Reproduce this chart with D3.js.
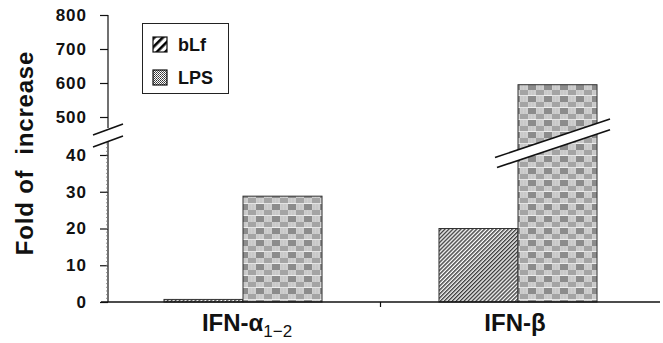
<!DOCTYPE html>
<html><head><meta charset="utf-8">
<script src="https://cdn.jsdelivr.net/npm/d3@7"></script>
<style>body{margin:0;background:#fff}</style>
</head><body>
<svg id="c" width="663" height="343"></svg>
<script>
// ---- data ----
const categories = ["IFN-α", "IFN-β"];
const categorySubs = ["1\u22122", ""];
const series = ["bLf", "LPS"];
const bLfValues = [0.7, 20];
const lpsValues = [28.8, 595];
const lowerTicks = [0, 10, 20, 30, 40];
const upperTicks = [500, 600, 700, 800];
const yTitle = "Fold of\u00A0 increase";

const svg = d3.select("#c");
const font = "Liberation Sans, Arial, Helvetica, sans-serif";
const axisX = 108;

// piecewise (broken) scale
const y = d3.scaleLinear().domain([0, 40, 500, 800]).range([302, 155, 117, 15]);
const yLow = d3.scaleLinear().domain([0, 40]).range([302, 155]);
const yHigh = d3.scaleLinear().domain([500, 800]).range([117, 15]);

const x = d3.scaleBand().domain(categories).range([105.5, 655.5]).paddingInner(0).paddingOuter(0);
const xSub = d3.scaleBand().domain(series).range([0, x.bandwidth()]).paddingInner(0).paddingOuter(0.74);

// patterns
const defs = svg.append("defs");
const hatch = defs.append("pattern").attr("id", "hatch").attr("patternUnits", "userSpaceOnUse")
  .attr("width", 2.8).attr("height", 10).attr("patternTransform", "rotate(45)");
hatch.append("rect").attr("width", 2.8).attr("height", 10).attr("fill", "#fff");
hatch.append("rect").attr("width", 1.4).attr("height", 10).attr("fill", "#3a3a3a");

const plaid = defs.append("pattern").attr("id", "plaid").attr("patternUnits", "userSpaceOnUse")
  .attr("width", 16).attr("height", 12).attr("x", 0).attr("y", 0);
plaid.append("rect").attr("width", 16).attr("height", 12).attr("fill", "#fff");
// block A: dark verticals
[0.5, 2.5, 4.5, 6.5].forEach(v => plaid.append("rect").attr("x", v).attr("y", 0).attr("width", 1).attr("height", 6).attr("fill", "#1a1a1a"));
// block B: light horizontals
[0.5, 2.5, 4.5].forEach(v => plaid.append("rect").attr("x", 8).attr("y", v).attr("width", 8).attr("height", 1).attr("fill", "#a0a0a0"));
[9.5, 12.5].forEach(v => plaid.append("rect").attr("x", v).attr("y", 0).attr("width", 1).attr("height", 6).attr("fill", "#c4c4c4"));
// block C: light horizontals
[6.5, 8.5, 10.5].forEach(v => plaid.append("rect").attr("x", 0).attr("y", v).attr("width", 8).attr("height", 1).attr("fill", "#a0a0a0"));
[1.5, 4.5].forEach(v => plaid.append("rect").attr("x", v).attr("y", 6).attr("width", 1).attr("height", 6).attr("fill", "#c4c4c4"));
// block D: mid verticals
[8.5, 10.5, 12.5, 14.5].forEach(v => plaid.append("rect").attr("x", v).attr("y", 6).attr("width", 1).attr("height", 6).attr("fill", "#4a4a4a"));
plaid.append("rect").attr("x", 0).attr("y", 11.3).attr("width", 16).attr("height", 0.7).attr("fill", "#fff");

const legHatch = defs.append("pattern").attr("id", "leghatch").attr("patternUnits", "userSpaceOnUse")
  .attr("width", 6).attr("height", 10).attr("patternTransform", "translate(153,37) rotate(45)");
legHatch.append("rect").attr("width", 6).attr("height", 10).attr("fill", "#fff");
legHatch.append("rect").attr("width", 2.6).attr("height", 10).attr("fill", "#000");

const legDots = defs.append("pattern").attr("id", "legdots").attr("patternUnits", "userSpaceOnUse")
  .attr("width", 2).attr("height", 2);
legDots.append("rect").attr("width", 2).attr("height", 2).attr("fill", "#fff");
legDots.append("rect").attr("width", 1).attr("height", 1).attr("fill", "#333");
legDots.append("rect").attr("x", 1).attr("y", 1).attr("width", 1).attr("height", 1).attr("fill", "#555");

// bars
const valuesBySeries = { bLf: bLfValues, LPS: lpsValues };
const fills = { bLf: "url(#hatch)", LPS: "url(#plaid)" };
const rows = [];
categories.forEach((c, i) => series.forEach(s => rows.push({ c, s, v: valuesBySeries[s][i] })));

svg.append("g").selectAll("rect").data(rows).join("rect")
  .attr("x", d => x(d.c) + xSub(d.s))
  .attr("y", d => y(d.v))
  .attr("width", xSub.bandwidth())
  .attr("height", d => y(0) - y(d.v))
  .attr("fill", d => fills[d.s])
  .attr("stroke", "#333").attr("stroke-width", 1);

// break across the tall bar
const bb = rows.find(d => d.v > 40);
const bx0 = x(bb.c) + xSub(bb.s);
const bx1 = bx0 + xSub.bandwidth();
const slope = -0.335;
const L1 = [[bx0 - 23, 157.5], [bx1 + 13, 157.5 + slope * (bx1 + 13 - (bx0 - 23))]];
const L2 = [[bx0 - 21, 167.5], [bx1 + 13, 167.5 + slope * (bx1 + 13 - (bx0 - 21))]];
svg.append("polygon").attr("points", [L1[0], L1[1], L2[1], L2[0]].map(p => p.join(",")).join(" ")).attr("fill", "#fff");
[L1, L2].forEach(L => svg.append("line").attr("x1", L[0][0]).attr("y1", L[0][1]).attr("x2", L[1][0]).attr("y2", L[1][1])
  .attr("stroke", "#111").attr("stroke-width", 1.6));

// y axis lower segment
const gLow = svg.append("g").attr("transform", `translate(${axisX},0)`)
  .call(d3.axisLeft(yLow).tickValues(lowerTicks).tickSize(8).tickSizeOuter(0).tickPadding(13));
gLow.select(".domain").remove();
gLow.append("line").attr("x1", 0).attr("x2", 0).attr("y1", yLow(0)).attr("y2", 141).attr("stroke", "#111").attr("stroke-width", 1.2);
gLow.selectAll(".minor").data(d3.range(1, 44)).join("line").attr("class", "minor")
  .attr("x1", -2).attr("x2", 0).attr("y1", d => yLow(d)).attr("y2", d => yLow(d)).attr("stroke", "#777").attr("stroke-width", 0.8);

// y axis upper segment
const gHigh = svg.append("g").attr("transform", `translate(${axisX},0)`)
  .call(d3.axisLeft(yHigh).tickValues(upperTicks).tickSize(8).tickSizeOuter(0).tickPadding(13));
gHigh.select(".domain").remove();
gHigh.append("line").attr("x1", 0).attr("x2", 0).attr("y1", yHigh(800)).attr("y2", 128).attr("stroke", "#111").attr("stroke-width", 1.2);

[gLow, gHigh].forEach(g => {
  g.selectAll(".tick line").attr("stroke", "#111").attr("stroke-width", 1.2);
  g.selectAll(".tick text").attr("font-family", font).attr("font-weight", "bold").attr("font-size", 17)
    .attr("letter-spacing", 1).attr("fill", "#111");
});

// axis break marks
[[[93, 135], [123, 124]], [[93, 147], [123, 136]]].forEach(L =>
  svg.append("line").attr("x1", L[0][0]).attr("y1", L[0][1]).attr("x2", L[1][0]).attr("y2", L[1][1])
    .attr("stroke", "#111").attr("stroke-width", 1.6));

// x axis
const gx = svg.append("g").attr("transform", `translate(0,${y(0)})`);
gx.append("line").attr("x1", 101).attr("x2", 660).attr("y1", 0).attr("y2", 0).attr("stroke", "#111").attr("stroke-width", 1.3);
gx.append("line").attr("x1", x(categories[1])).attr("x2", x(categories[1])).attr("y1", 0).attr("y2", 5).attr("stroke", "#111").attr("stroke-width", 1.2);

// category labels
categories.forEach((c, i) => {
  const t = svg.append("text").attr("x", x(c) + x.bandwidth() / 2 + (i === 0 ? 4 : -3)).attr("y", 331)
    .attr("text-anchor", "middle").attr("font-family", font).attr("font-weight", "bold").attr("font-size", 24)
    .attr("fill", "#111");
  t.append("tspan").text(c);
  if (categorySubs[i]) t.append("tspan").attr("dy", 6).attr("font-size", 17).attr("font-weight", "normal").text(categorySubs[i]);
});

// y title
svg.append("text").attr("transform", "translate(33,153) rotate(-90)")
  .attr("text-anchor", "middle").attr("font-family", font).attr("font-weight", "bold").attr("font-size", 24)
  .attr("letter-spacing", 0.8).attr("fill", "#111").text(yTitle);

// legend
const lg = svg.append("g");
lg.append("rect").attr("x", 142.5).attr("y", 23.5).attr("width", 86).attr("height", 70).attr("fill", "#fff").attr("stroke", "#222").attr("stroke-width", 1);
const legFills = { bLf: "url(#leghatch)", LPS: "url(#legdots)" };
series.forEach((s, i) => {
  const yy = 37 + i * 33;
  lg.append("rect").attr("x", 153).attr("y", yy).attr("width", 14).attr("height", 15).attr("fill", legFills[s]).attr("stroke", "#111").attr("stroke-width", 1.2);
  lg.append("text").attr("x", 178).attr("y", yy + 14).attr("font-family", font).attr("font-weight", "bold").attr("font-size", 18)
    .attr("fill", "#111").text(s);
});
</script>
</body></html>
